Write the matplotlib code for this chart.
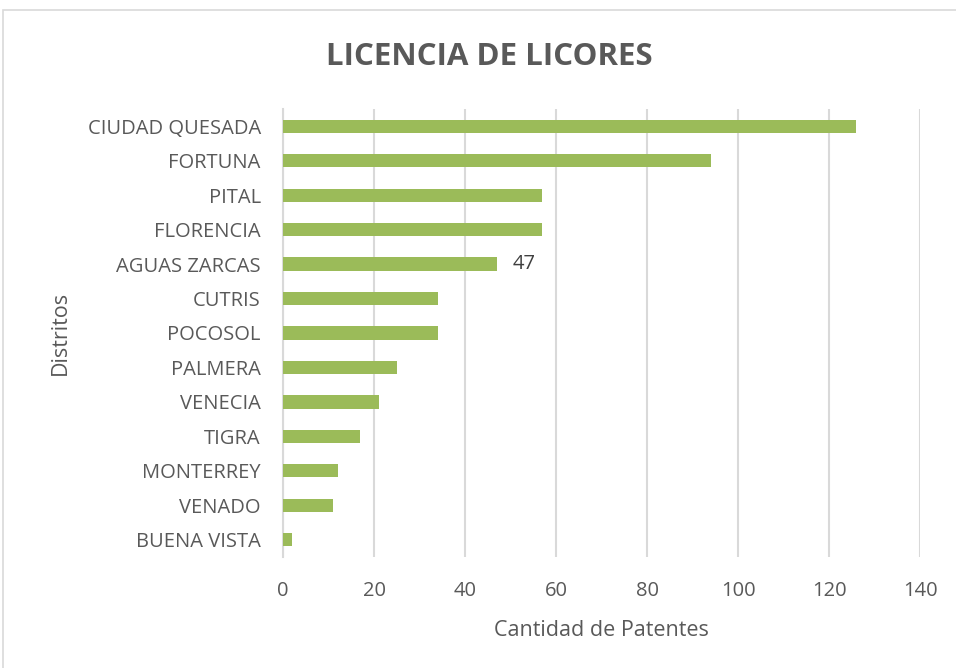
import matplotlib.pyplot as plt
from matplotlib.patches import Rectangle

# Licencias de licores por distrito
distritos = ["CIUDAD QUESADA", "FORTUNA", "PITAL", "FLORENCIA", "AGUAS ZARCAS",
             "CUTRIS", "POCOSOL", "PALMERA", "VENECIA", "TIGRA", "MONTERREY",
             "VENADO", "BUENA VISTA"]
patentes = [126, 94, 57, 57, 47, 34, 34, 25, 21, 17, 12, 11, 2]
etiqueta_distrito = "AGUAS ZARCAS"
ticks_x = [0, 20, 40, 60, 80, 100, 120, 140]

gris = "#595959"
plt.rcParams['font.family'] = ['Open Sans', 'DejaVu Sans']

fig = plt.figure(figsize=(9.56, 6.68), dpi=100)
ax = fig.add_axes([0.296, 0.166, 0.6665, 0.671])

# borde del area del grafico
fig.patches.append(Rectangle((3 / 956, -0.1), 1.1, 1 - 10 / 668 + 0.1,
                             transform=fig.transFigure, fill=False,
                             edgecolor="#d9d9d9", linewidth=1.2))

y = list(range(len(distritos)))
ax.barh(y, patentes, height=0.38, color="#9bbb59", zorder=3)
ax.set_yticks(y)
ax.set_yticklabels(distritos, fontsize=14.5, color=gris)
ax.set_ylim(len(distritos) - 0.5, -0.5)

ax.set_xlim(0, 140)
ax.set_xticks(ticks_x)
ax.set_xticklabels([str(t) for t in ticks_x], fontsize=14.5, color=gris)
ax.tick_params(axis="x", length=0, pad=17)
ax.tick_params(axis="y", length=0, pad=16)
ax.grid(axis="x", color="#d9d9d9", linewidth=1.5, zorder=0)

for s in ["top", "right", "bottom"]:
    ax.spines[s].set_visible(False)
ax.spines["left"].set_color("#d9d9d9")
ax.spines["left"].set_linewidth(1.5)

i = distritos.index(etiqueta_distrito)
ax.text(patentes[i] + 3.5, i, str(patentes[i]), va="center", ha="left",
        fontsize=14.5, color="#404040")

ax.set_xlabel("Cantidad de Patentes", fontsize=15.5, color=gris, labelpad=14)
ax.set_ylabel("Distritos", fontsize=15.5, color=gris, labelpad=12)
fig.text(0.512, 0.915, "LICENCIA DE LICORES", ha="center", va="center",
         fontsize=22.5, fontweight="bold", color=gris)

fig.savefig("out.png", dpi=100)
